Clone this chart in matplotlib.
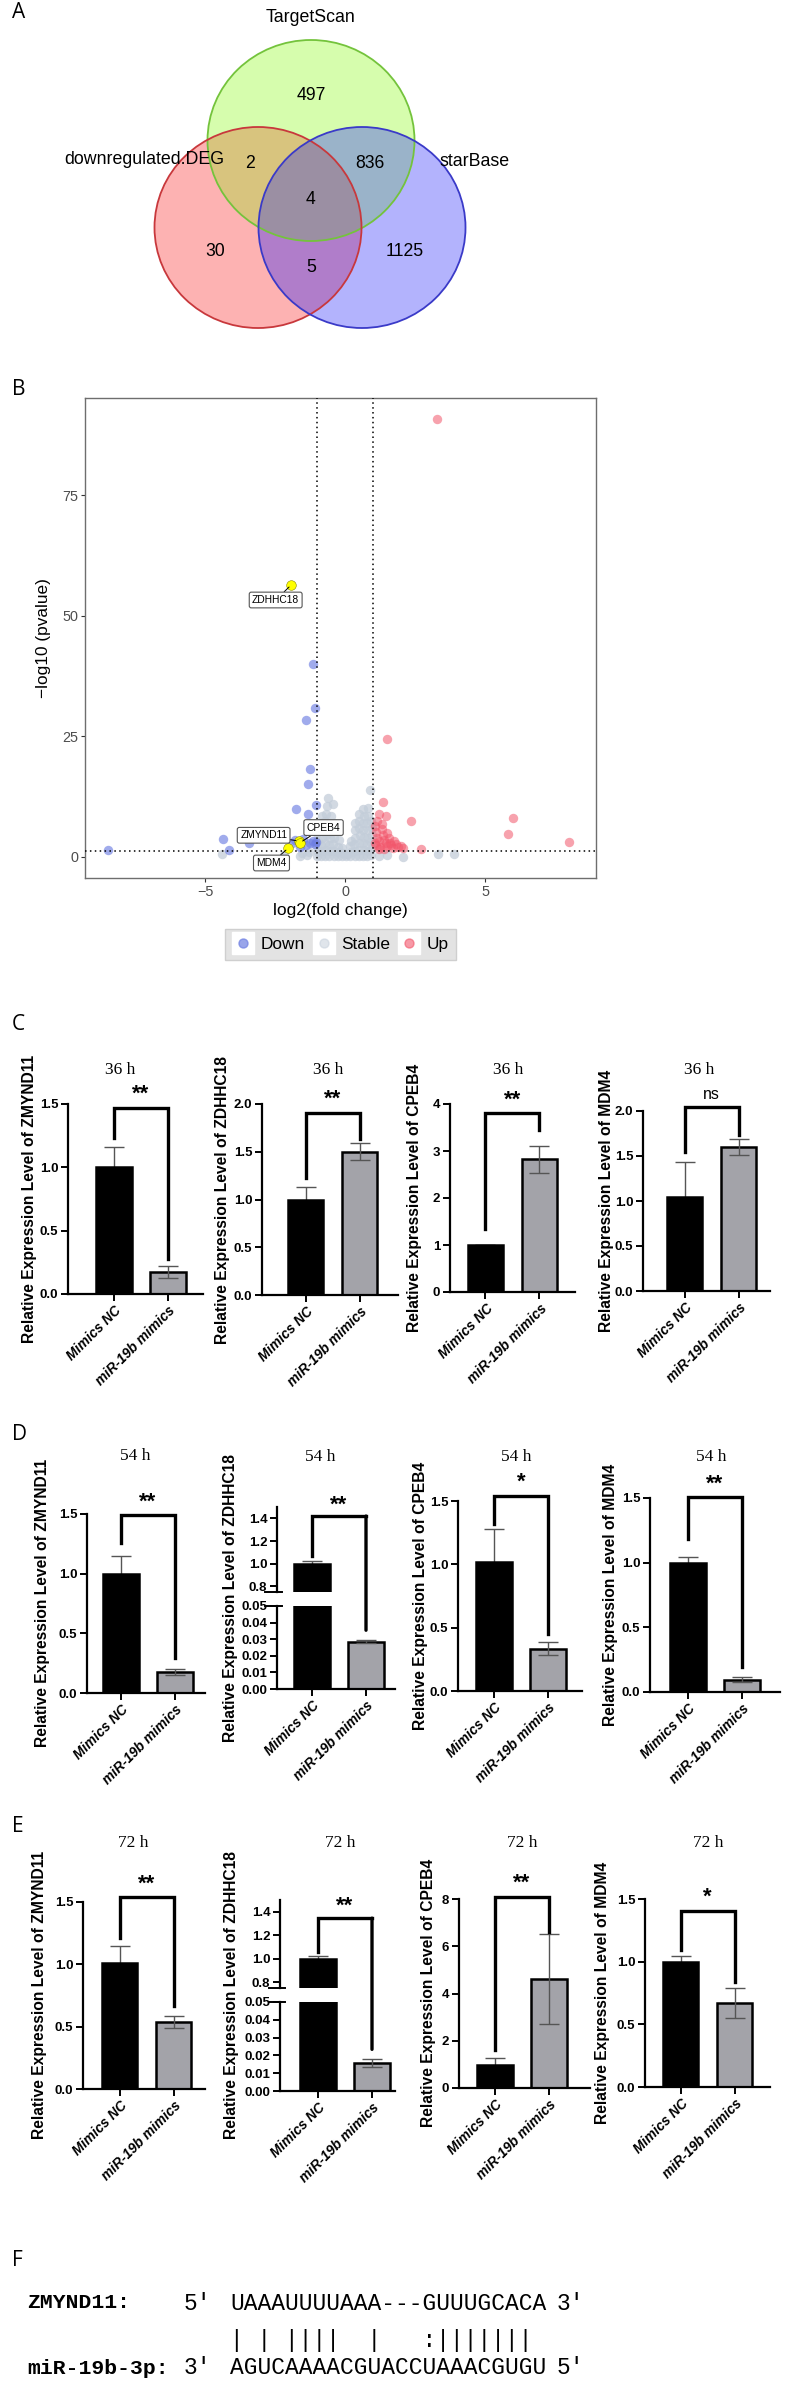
import numpy as np
import matplotlib
matplotlib.use('Agg')
import matplotlib.pyplot as plt
from matplotlib.patches import Ellipse, Polygon, ConnectionPatch
from matplotlib.lines import Line2D
from matplotlib import font_manager as fm

# ---------------------------------------------------------------- data
# Panel A: Venn counts
venn_names = ['downregulated.DEG', 'TargetScan', 'starBase']
n_deg_only = 30
n_ts_only = 497
n_sb_only = 1125
n_deg_ts = 2
n_ts_sb = 836
n_deg_sb = 5
n_all = 4

# Panel B: volcano
down_x = [-1.16, -1.07, -1.41, -1.25, -1.34, -1.04, -1.75, -1.32, -4.37, -3.45, -4.16,
          -8.48, -1.88, -1.52, -1.16, -1.07, -1.39, -1.61, -1.25, -1.04, -1.79]
down_y = [40.0, 31.0, 28.5, 18.3, 15.1, 10.7, 9.9, 8.9, 3.8, 2.8, 1.5,
          1.5, 2.8, 3.8, 3.4, 2.7, 2.5, 2.1, 2.9, 3.2, 3.6]
up_x = [3.27, 1.48, 1.34, 1.20, 1.45, 2.36, 6.00, 5.80, 8.00, 2.70, 2.00, 2.05,
        1.05, 1.10, 1.15, 1.20, 1.10, 1.25, 1.30, 1.35, 1.40, 1.45, 1.50, 1.55,
        1.60, 1.65, 1.70, 1.75, 1.80, 1.90, 1.20, 1.40, 1.08, 1.30, 1.50, 1.15]
up_y = [90.9, 24.5, 11.3, 8.9, 8.6, 7.4, 8.1, 4.8, 3.2, 1.6, 2.2, 1.8,
        6.5, 5.2, 4.0, 3.3, 2.5, 2.0, 5.8, 4.5, 3.6, 2.8, 2.2, 3.9,
        3.0, 2.4, 1.8, 3.3, 2.6, 2.0, 1.6, 1.7, 3.0, 6.8, 5.0, 7.5]
stable_x = [-1.62, -1.55, -1.35, -1.28,
            -1.00, -0.98, -1.02, -0.97, -1.01, -0.96,
            -0.86, -0.84, -0.87, -0.83, -0.85, -0.86, -0.84,
            -0.71, -0.69, -0.72, -0.68, -0.70, -0.71, -0.69, -0.66, -0.60,
            -0.56, -0.54, -0.57, -0.53, -0.55, -0.56, -0.52, -0.45,
            -0.41, -0.39, -0.42, -0.38, -0.40, -0.41,
            -0.26, -0.24, -0.27, -0.23,
            -0.11, -0.09, -0.12,
            0.04, 0.06,
            0.19, 0.21, 0.18, 0.22,
            0.34, 0.36, 0.33, 0.37, 0.35, 0.34,
            0.49, 0.51, 0.48, 0.52, 0.50, 0.49, 0.51,
            0.64, 0.66, 0.63, 0.67, 0.65, 0.64, 0.66, 0.65,
            0.79, 0.81, 0.78, 0.82, 0.80, 0.79, 0.81, 0.80,
            0.94, 0.96, 0.93, 0.97, 0.95, 0.94,
            0.89, 1.20, 1.50, 2.05, 3.33, 3.90, -4.40, -2.20]
stable_y = [0.3, 0.8, 0.5, 1.0,
            0.3, 1.0, 2.0, 3.5, 5.0, 6.5,
            0.2, 1.2, 2.5, 4.0, 5.5, 7.0, 8.5,
            0.3, 1.5, 3.0, 4.5, 6.0, 7.5, 9.0, 10.5, 12.3,
            0.2, 1.2, 2.5, 4.0, 5.5, 7.0, 8.5, 11.0,
            0.3, 1.3, 2.6, 4.0, 5.5, 7.0,
            0.2, 1.0, 2.0, 3.5,
            0.1, 0.8, 1.8,
            0.1, 0.7,
            0.2, 1.0, 2.2, 3.4,
            0.3, 1.3, 2.6, 4.0, 5.5, 7.0,
            0.2, 1.5, 3.0, 4.5, 6.0, 7.5, 9.0,
            0.3, 1.4, 2.8, 4.2, 5.6, 7.0, 8.5, 10.0,
            0.2, 1.2, 2.5, 4.0, 5.5, 7.0, 8.5, 10.2,
            0.5, 1.8, 3.2, 4.6, 6.0, 7.5,
            13.9, 0.3, 0.5, -0.1, 0.6, 0.6, 0.6, 0.4]
hl_genes = ['ZDHHC18', 'ZMYND11', 'CPEB4', 'MDM4']
hl_x = [-1.93, -1.66, -1.60, -2.04]
hl_y = [56.4, 3.3, 3.0, 1.8]
fc_cut = 1.0
p_cut = 1.3

# Panels C-E: qPCR bars
genes = ['ZMYND11', 'ZDHHC18', 'CPEB4', 'MDM4']
groups = ['Mimics NC', 'miR-19b mimics']
times = ['36 h', '54 h', '72 h']

mean_36h = [[1.00, 0.175], [1.00, 1.50], [1.00, 2.82], [1.045, 1.60]]
sd_36h = [[0.16, 0.045], [0.135, 0.09], [0.01, 0.28], [0.39, 0.085]]
sig_36h = ['**', '**', '**', 'ns']
brk_36h = [[1.47, 1.23, 0.28], [1.91, 1.23, 1.63], [3.81, 1.35, 3.45], [2.04, 1.54, 1.73]]

mean_54h = [[1.00, 0.18], [1.00, 0.0286], [1.02, 0.334], [1.00, 0.095]]
sd_54h = [[0.145, 0.025], [0.024, 0.0007], [0.26, 0.053], [0.04, 0.02]]
sig_54h = ['**', '**', '*', '**']
brk_54h = [[1.49, 1.26, 0.29], [1.42, 1.07, 0.0354], [1.54, 1.32, 0.45], [1.505, 1.18, 0.19]]

mean_72h = [[1.01, 0.536], [1.00, 0.0158], [0.98, 4.62], [1.00, 0.672]]
sd_72h = [[0.135, 0.05], [0.02, 0.0022], [0.30, 1.90], [0.045, 0.118]]
sig_72h = ['**', '**', '**', '*']
brk_72h = [[1.54, 1.21, 0.666], [1.345, 1.06, 0.0234], [8.1, 1.6, 6.6], [1.407, 1.09, 0.84]]

# Panel F: alignment
seq_target_name = 'ZMYND11:'
seq_target = 'UAAAUUUUAAA---GUUUGCACA'
seq_pairs = '| | ||||  |   :|||||||'
seq_mir_name = 'miR-19b-3p:'
seq_mir = 'AGUCAAAACGUACCUAAACGUGU'

# ---------------------------------------------------------------- fonts
def pick(names):
    for n in names:
        try:
            fm.findfont(fm.FontProperties(family=n), fallback_to_default=False)
            return n
        except Exception:
            pass
    return 'DejaVu Sans'

NARROW = pick(['Liberation Sans Narrow', 'Arial Narrow', 'Liberation Sans'])
SANS = pick(['Liberation Sans', 'Arial'])
SERIF = pick(['Liberation Serif', 'DejaVu Serif'])
MONO = pick(['Liberation Mono', 'DejaVu Sans Mono'])
LETTER = pick(['Open Sans', 'Lato', 'Liberation Sans'])

W, H = 786, 2383
fig = plt.figure(figsize=(W / 100, H / 100), dpi=100)
renderer = fig.canvas.get_renderer()


def fit(s, target_px, lo=None, **kw):
    """font size (pt) that makes string s about target_px wide"""
    t = fig.text(0, 0, s, fontsize=10, **kw)
    w = t.get_window_extent(renderer).width
    t.remove()
    size = 10.0 * target_px / w
    if lo is not None:
        size = max(size, lo)
    return size


def px_axes(l, t, r, b):
    return fig.add_axes([l / W, 1 - b / H, (r - l) / W, (b - t) / H])


def ftext(x, y, s, **kw):
    return fig.text(x / W, 1 - y / H, s, **kw)


for lab, y in zip('ABCDEF', [13, 390, 1025, 1435, 1827, 2260]):
    ftext(12, y, lab, fontsize=15, family=LETTER, va='center', ha='left')

# ---------------------------------------------------------------- A: Venn
axA = px_axes(0, 0, 786, 340)
axA.set_xlim(0, 786)
axA.set_ylim(340, 0)
axA.axis('off')

g_c, r_c, b_c = (311, 140.5), (258, 227.5), (362, 227.5)
ew, eh = 207, 201


def ell(c, **kw):
    return Ellipse(c, ew, eh, **kw)


def ell_pts(c, n=720):
    t = np.linspace(0, 2 * np.pi, n, endpoint=False)
    return np.column_stack([c[0] + ew / 2 * np.cos(t), c[1] + eh / 2 * np.sin(t)])


def inside(p, c):
    return ((p[:, 0] - c[0]) / (ew / 2)) ** 2 + ((p[:, 1] - c[1]) / (eh / 2)) ** 2 <= 1.0


gP = axA.add_patch(ell(g_c, fc='#d6fdad', ec='none'))
rP = axA.add_patch(ell(r_c, fc='#fdb2b2', ec='none'))
bP = axA.add_patch(ell(b_c, fc='#b3b3fd', ec='none'))
p = axA.add_patch(ell(r_c, fc='#d8c47e', ec='none')); p.set_clip_path(gP)
p = axA.add_patch(ell(b_c, fc='#9ab3c9', ec='none')); p.set_clip_path(gP)
p = axA.add_patch(ell(b_c, fc='#b07dca', ec='none')); p.set_clip_path(rP)
rp, bp = ell_pts(r_c), ell_pts(b_c)
lens = np.vstack([rp[inside(rp, b_c)], bp[inside(bp, r_c)]])
cen = lens.mean(axis=0)
lens = lens[np.argsort(np.arctan2(lens[:, 1] - cen[1], lens[:, 0] - cen[0]))]
p = axA.add_patch(Polygon(lens, closed=True, fc='#9b8fa3', ec='none')); p.set_clip_path(gP)
axA.add_patch(ell(g_c, fc='none', ec='#74c33c', lw=1.3))
axA.add_patch(ell(r_c, fc='none', ec='#c8383c', lw=1.3))
axA.add_patch(ell(b_c, fc='none', ec='#3a3ac8', lw=1.3))

v_lab = fit('downregulated.DEG', 160, family=NARROW)
v_num = fit('1125', 38, family=NARROW)
axA.text(311, 18, venn_names[1], ha='center', va='center', family=NARROW, fontsize=v_lab)
axA.text(144, 159, venn_names[0], ha='center', va='center', family=NARROW, fontsize=v_lab)
axA.text(475, 161, venn_names[2], ha='center', va='center', family=NARROW, fontsize=v_lab)
for val, (x, y) in zip([n_ts_only, n_deg_ts, n_ts_sb, n_all, n_deg_only, n_deg_sb, n_sb_only],
                       [(311, 95), (250, 164), (370, 164), (311, 199), (215, 252), (311, 267), (405, 252)]):
    axA.text(x, y, str(val), ha='center', va='center', family=NARROW, fontsize=v_num)

# ---------------------------------------------------------------- B: volcano
axB = px_axes(85, 398, 596, 878)
axB.set_xlim(-9.29, 8.96)
axB.set_ylim(-4.36, 95.2)
c_down, c_stable, c_up = '#6e7fe2', '#c3cdd9', '#f2566b'
axB.scatter(stable_x, stable_y, s=46, c=c_stable, alpha=0.75, lw=0, zorder=2)
axB.scatter(down_x, down_y, s=46, c=c_down, alpha=0.65, lw=0, zorder=3)
axB.scatter(up_x, up_y, s=46, c=c_up, alpha=0.55, lw=0, zorder=3)
axB.scatter(hl_x, hl_y, s=48, c='#ffff00', edgecolors='#8a8a00', lw=0.4, zorder=5)
for v in (-fc_cut, fc_cut):
    axB.axvline(v, color='black', lw=1.1, ls=(0, (1, 2.2)), zorder=4)
axB.axhline(p_cut, color='black', lw=1.1, ls=(0, (1, 2.2)), zorder=4)
ann_size = fit('ZDHHC18', 47, family=NARROW)
label_pos = [(-2.48, 53.3), (-2.91, 4.5), (-0.77, 6.1), (-2.63, -1.25)]
for g, x, y, (lx, ly) in zip(hl_genes, hl_x, hl_y, label_pos):
    axB.annotate(g, xy=(x, y), xytext=(lx, ly), ha='center', va='center', fontsize=ann_size,
                 family=NARROW, zorder=6,
                 bbox=dict(boxstyle='round,pad=0.28,rounding_size=0.2', fc='white', ec='#555555', lw=0.8),
                 arrowprops=dict(arrowstyle='-', color='black', lw=0.7, shrinkA=0, shrinkB=2))
for s in axB.spines.values():
    s.set_color('#6e6e6e')
    s.set_linewidth(1.0)
axB.set_xticks([-5, 0, 5])
axB.set_xticklabels(['\u22125', '0', '5'])
axB.set_yticks([0, 25, 50, 75])
tick_sz = fit('75', 16, family=NARROW, lo=9.5)
axB.tick_params(length=3, width=0.8, color='#333333', labelsize=tick_sz, labelcolor='#4d4d4d', pad=2)
for t in axB.get_xticklabels() + axB.get_yticklabels():
    t.set_family(NARROW)
axB.set_xlabel('log2(fold change)', family=NARROW, fontsize=fit('log2(fold change)', 135, family=NARROW),
               labelpad=3)
axB.set_ylabel('\u2212log10 (pvalue)', family=SANS, fontsize=fit('\u2212log10 (pvalue)', 120, family=SANS),
               labelpad=8)


def dot(c, a):
    return (Line2D([], [], marker='s', ms=16, color='white', ls=''),
            Line2D([], [], marker='o', ms=6.5, color=c, alpha=a, ls=''))


leg_sz = fit('Stable', 49, family=NARROW)
leg = axB.legend([dot(c_down, 0.7), dot(c_stable, 0.5), dot(c_up, 0.6)], ['Down', 'Stable', 'Up'],
                 loc='center', bbox_to_anchor=(340.5 / W, 1 - 944.5 / H), bbox_transform=fig.transFigure,
                 ncol=3, frameon=True, fancybox=False, facecolor='#e3e3e3', edgecolor='#cfcfcf',
                 framealpha=1, prop=dict(family=NARROW, size=leg_sz), handlelength=1.25,
                 handletextpad=0.35, columnspacing=0.5, borderpad=0.45)

# ---------------------------------------------------------------- C-E: bars
BLACK, GREY = '#000000', '#a3a3a9'
SP = 54.0  # px per group step
ytick_sz = fit('1.5', 17, family=NARROW, weight='bold', lo=9.5)
ylab_sz = fit('Relative Expression Level of ZMYND11', 288, family=SANS, weight='bold')
xt_sz = fit('miR-19b mimics', 106, family=SANS, weight='bold', style='italic')
tit_sz = fit('54 h', 30.5, family=SERIF)
star_sz = 16


def style(ax, show_bottom=True):
    ax.spines['top'].set_visible(False)
    ax.spines['right'].set_visible(False)
    ax.spines['left'].set_linewidth(1.6)
    ax.spines['bottom'].set_linewidth(1.6)
    ax.spines['bottom'].set_visible(show_bottom)
    ax.tick_params(axis='both', width=1.4, length=5, pad=2)
    ax.patch.set_alpha(0)


def draw_bars(ax, means, sds):
    ax.bar([0, 1], means, width=0.65, color=[BLACK, GREY], edgecolor='black', lw=1.8, zorder=2)
    ax.errorbar([0], [means[0]], yerr=[sds[0]], fmt='none', ecolor='#555555', elinewidth=1.0,
                capsize=7, capthick=1.0, zorder=1)
    ax.errorbar([1], [means[1]], yerr=[sds[1]], fmt='none', ecolor='#555555', elinewidth=1.0,
                capsize=7, capthick=1.0, zorder=3)


def yfmt(ax, ticks, fmt):
    ax.set_yticks(ticks)
    ax.set_yticklabels([fmt.format(v) for v in ticks], family=NARROW, fontweight='bold',
                       fontsize=ytick_sz)


def xlabels(ax):
    ax.set_xticks([0, 1])
    ax.set_xticklabels(groups, rotation=45, ha='right', rotation_mode='anchor', family=SANS,
                       fontweight='bold', fontstyle='italic', fontsize=xt_sz)


def sig_text(ax, y, s):
    if '*' in s:
        ax.text(0.5, y, s, ha='center', va='center', family=SANS, clip_on=False,
                fontsize=star_sz, fontweight='bold')
    else:
        ax.text(0.5, y, s, ha='center', va='center', family=SANS, clip_on=False, fontsize=11.5)


def simple_panel(c0, left, right, top, bottom, means, sds, ymax, step, fmt, sig, brk):
    ax = px_axes(left, top, right, bottom)
    ax.set_xlim((left - c0) / SP, (right - c0) / SP)
    ax.set_ylim(0, ymax)
    style(ax)
    draw_bars(ax, means, sds)
    yfmt(ax, np.arange(0, ymax + 1e-9, step), fmt)
    xlabels(ax)
    t, lb, rb = brk
    ax.plot([0, 0, 1, 1], [lb, t, t, rb], color='k', lw=2.4, clip_on=False,
            solid_joinstyle='miter', zorder=4)
    sig_text(ax, t + (ymax * 0.07), sig)
    return ax


def broken_panel(c0, left, right, up_tb, lo_tb, means, sds, sig, brk):
    axu = px_axes(left, up_tb[0], right, up_tb[1])
    axl = px_axes(left, lo_tb[0], right, lo_tb[1])
    for ax in (axu, axl):
        ax.set_xlim((left - c0) / SP, (right - c0) / SP)
        draw_bars(ax, means, sds)
    axu.set_ylim(0.75, 1.5)
    axl.set_ylim(0, 0.05)
    style(axu, show_bottom=False)
    style(axl)
    axu.set_xticks([])
    yfmt(axu, [0.8, 1.0, 1.2, 1.4], '{:.1f}')
    yfmt(axl, [0.0, 0.01, 0.02, 0.03, 0.04, 0.05], '{:.2f}')
    xlabels(axl)
    axu.plot([-0.1, 0.04], [0, 0], transform=axu.transAxes, color='k', lw=1.4, clip_on=False)
    axl.plot([-0.1, 0.04], [1, 1], transform=axl.transAxes, color='k', lw=1.4, clip_on=False)
    t, lb, rb = brk
    axu.plot([0, 0, 1], [lb, t, t], color='k', lw=2.4, clip_on=False, solid_joinstyle='miter', zorder=4)
    con = ConnectionPatch(xyA=(1, t), coordsA=axu.transData, xyB=(1, rb), coordsB=axl.transData,
                          color='k', lw=2.4)
    fig.add_artist(con)
    sig_text(axu, t + 0.1, sig)
    return axu, axl


def ylab(x, yc, gene):
    ftext(x, yc, 'Relative Expression Level of ' + gene, rotation=90, ha='center', va='center',
          family=SANS, fontweight='bold', fontsize=ylab_sz)


def title(x, y, s):
    ftext(x, y, s, ha='center', va='center', family=SERIF, fontsize=tit_sz)


# Row C (36 h)
lay_C = [(114, 68, 203, 1104, 1294), (305.5, 262, 398, 1104, 1295),
         (485.5, 450, 575, 1104, 1292), (684.5, 643, 770, 1111, 1291)]
ymax_C = [1.5, 2.0, 4, 2.0]
step_C = [0.5, 0.5, 1, 0.5]
fmt_C = ['{:.1f}', '{:.1f}', '{:.0f}', '{:.1f}']
tit_C = [(120, 1070), (328, 1070), (508, 1070), (699, 1070)]
ylx_C = [30, 222, 415, 607]
for i in range(4):
    c0, l, r, t, b = lay_C[i]
    simple_panel(c0, l, r, t, b, mean_36h[i], sd_36h[i], ymax_C[i], step_C[i], fmt_C[i],
                 sig_36h[i], brk_36h[i])
    title(*tit_C[i], times[0])
    ylab(ylx_C[i], (t + b) / 2, genes[i])

# Row D (54 h)
tit_D = [(135, 1456), (320, 1457), (516, 1457), (711, 1457)]
ylx_D = [43, 230, 420, 610]
simple_panel(121, 87, 205, 1514, 1693, mean_54h[0], sd_54h[0], 1.5, 0.5, '{:.1f}', sig_54h[0], brk_54h[0])
broken_panel(312, 277, 395, (1507, 1592), (1606, 1689), mean_54h[1], sd_54h[1], sig_54h[1], brk_54h[1])
simple_panel(494, 458, 582, 1501, 1691, mean_54h[2], sd_54h[2], 1.5, 0.5, '{:.1f}', sig_54h[2], brk_54h[2])
simple_panel(688, 650, 780, 1498, 1692, mean_54h[3], sd_54h[3], 1.5, 0.5, '{:.1f}', sig_54h[3], brk_54h[3])
for i, yc in enumerate([1603, 1598, 1596, 1595]):
    title(*tit_D[i], times[1])
    ylab(ylx_D[i], yc, genes[i])

# Row E (72 h)
tit_E = [(133, 1843), (340, 1843), (522, 1843), (708, 1843)]
ylx_E = [40, 232, 428, 603]
simple_panel(119.5, 83, 205, 1902, 2089, mean_72h[0], sd_72h[0], 1.5, 0.5, '{:.1f}', sig_72h[0], brk_72h[0])
broken_panel(318, 280, 395, (1900, 1988), (2002, 2091), mean_72h[1], sd_72h[1], sig_72h[1], brk_72h[1])
simple_panel(495, 459, 590, 1899, 2088, mean_72h[2], sd_72h[2], 8, 2, '{:.0f}', sig_72h[2], brk_72h[2])
simple_panel(680.5, 645, 770, 1899, 2087, mean_72h[3], sd_72h[3], 1.5, 0.5, '{:.1f}', sig_72h[3], brk_72h[3])
for i, yc in enumerate([1995, 1995, 1993, 1993]):
    title(*tit_E[i], times[2])
    ylab(ylx_E[i], yc, genes[i])

# ---------------------------------------------------------------- F: alignment
seq_sz = fit(seq_mir, 318, family=MONO)
name_sz = fit(seq_mir_name, 142, family=MONO, weight='bold')
skw = dict(family=MONO, fontsize=seq_sz, va='center', ha='left')
nkw = dict(family=MONO, fontsize=name_sz, va='center', ha='left', fontweight='bold')
ftext(27, 2303, seq_target_name, **nkw)
ftext(184, 2303, "5'", **skw)
ftext(230, 2303, seq_target, **skw)
ftext(557, 2303, "3'", **skw)
ftext(230, 2340, seq_pairs, **skw)
ftext(27, 2368, seq_mir_name, **nkw)
ftext(184, 2368, "3'", **skw)
ftext(230, 2368, seq_mir, **skw)
ftext(557, 2368, "5'", **skw)

fig.savefig('out.png', dpi=100)
